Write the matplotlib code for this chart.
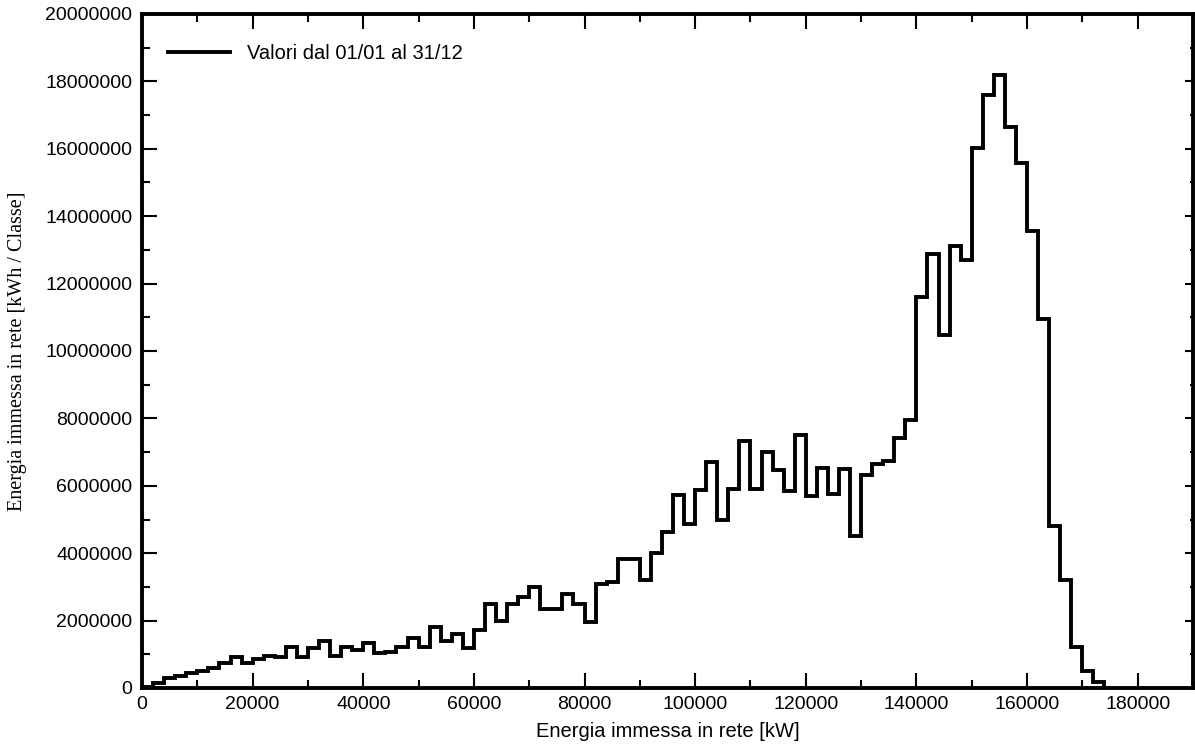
#!/usr/bin/env python3
import numpy as np
import matplotlib
matplotlib.use("Agg")
import matplotlib.pyplot as plt
from matplotlib.ticker import MultipleLocator, FuncFormatter

# classes of 2000 kW, from 0 to 174000 kW
bin_width = 2000
energy_mwh = [
    0.03, 0.16, 0.29, 0.37, 0.44, 0.49, 0.60, 0.73, 0.93, 0.73,
    0.86, 0.95, 0.91, 1.21, 0.93, 1.18, 1.40, 0.95, 1.23, 1.13,
    1.33, 1.03, 1.08, 1.23, 1.48, 1.23, 1.82, 1.38, 1.60, 1.18,
    1.71, 2.48, 1.98, 2.50, 2.69, 2.99, 2.35, 2.35, 2.80, 2.48,
    1.97, 3.08, 3.14, 3.83, 3.83, 3.19, 4.02, 4.64, 5.73, 4.86,
    5.88, 6.70, 4.99, 5.91, 7.32, 5.90, 7.00, 6.47, 5.86, 7.50,
    5.70, 6.54, 5.76, 6.50, 4.52, 6.31, 6.64, 6.75, 7.42, 7.94,
    11.60, 12.89, 10.47, 13.11, 12.69, 16.03, 17.59, 18.18, 16.65, 15.58,
    13.55, 10.95, 4.80, 3.19, 1.21, 0.51, 0.17,
]
series_label = "Valori dal 01/01 al 31/12"
x_label = "Energia immessa in rete [kW]"
y_label = "Energia immessa in rete [kWh / Classe]"

values = np.array(energy_mwh) * 1e6
edges = np.arange(len(values) + 1) * bin_width

# step outline closed down to zero at both ends
xs = np.concatenate([[edges[0]], edges])
ys = np.concatenate([[0.0], values, [0.0]])

plt.rcParams['font.family'] = ['Liberation Sans', 'DejaVu Sans']

fig = plt.figure(figsize=(11.95, 7.46), dpi=100)
ax = fig.add_axes([142 / 1195, 1 - 688 / 746, 1051 / 1195, 674 / 746])

ax.plot(xs, ys, drawstyle='steps-post', color='black', linewidth=2.8,
        label=series_label, solid_joinstyle='miter')

ax.set_xlim(0, 190000)
ax.set_ylim(0, 20000000)

ax.xaxis.set_major_locator(MultipleLocator(20000))
ax.xaxis.set_minor_locator(MultipleLocator(10000))
ax.yaxis.set_major_locator(MultipleLocator(2000000))
ax.yaxis.set_minor_locator(MultipleLocator(1000000))

def fmt_int(x, p):
    return f'{x:.0f}'
ax.xaxis.set_major_formatter(FuncFormatter(fmt_int))
ax.yaxis.set_major_formatter(FuncFormatter(fmt_int))

ax.tick_params(which='both', direction='in', top=True, right=False,
               width=1.5, labelsize=14, colors='black')
ax.tick_params(which='major', length=10.5, pad=6)
ax.tick_params(axis='y', which='major', pad=7)
ax.tick_params(which='minor', length=5.5)

# right side ticks are shorter in the original
axr = ax.twinx()
axr.set_ylim(ax.get_ylim())
axr.yaxis.set_major_locator(MultipleLocator(2000000))
axr.yaxis.set_minor_locator(MultipleLocator(1000000))
axr.tick_params(which='both', direction='in', labelright=False, width=1.5)
axr.tick_params(which='major', length=5.5)
axr.tick_params(which='minor', length=2.5)
for sp in axr.spines.values():
    sp.set_visible(False)

for sp in ax.spines.values():
    sp.set_linewidth(2.8)

ax.set_xlabel(x_label, fontsize=14.5, labelpad=6)
ax.set_ylabel(y_label, fontsize=14.5, family=['Liberation Serif', 'DejaVu Serif'],
              labelpad=13)

ax.legend(loc='center left', bbox_to_anchor=((168 - 142) / 1051, 1 - (54 - 14) / 674),
          frameon=False, fontsize=14.5, handlelength=3.1, handletextpad=0.8,
          borderpad=0, borderaxespad=0)

fig.savefig('out.png', dpi=100)
